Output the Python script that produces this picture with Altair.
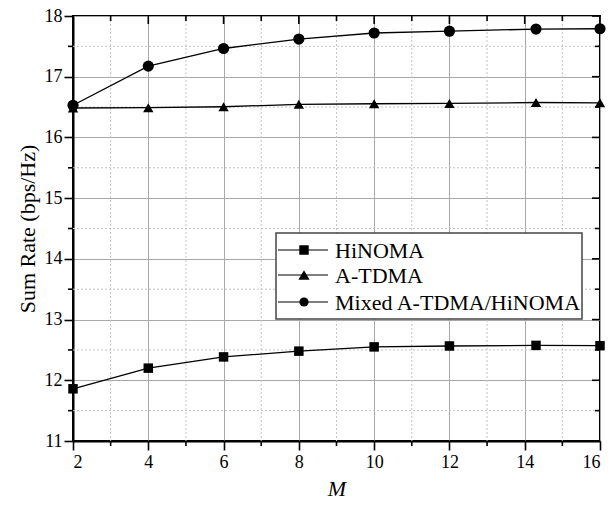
import altair as alt
import pandas as pd

# Number of users M and the sum rate (bps/Hz) of each scheme
m_values = [2, 4, 6, 8, 10, 12, 14.3, 16]
hinoma = [11.86, 12.20, 12.385, 12.48, 12.55, 12.565, 12.575, 12.57]
a_tdma = [16.485, 16.49, 16.505, 16.545, 16.555, 16.56, 16.575, 16.57]
mixed = [16.53, 17.175, 17.465, 17.62, 17.72, 17.75, 17.785, 17.79]

series_names = ["HiNOMA", "A-TDMA", "Mixed A-TDMA/HiNOMA"]
series_shapes = ["square", "triangle-up", "circle"]
series_sizes = [90, 125, 85]

x_major = [2, 4, 6, 8, 10, 12, 14, 16]
x_minor = [3, 5, 7, 9, 11, 13, 15]
y_major = [11, 12, 13, 14, 15, 16, 17, 18]
y_minor = [11.5, 12.5, 13.5, 14.5, 15.5, 16.5, 17.5]

W, H = 527, 425
FONT = "Liberation Serif"

rows = []
for name, vals in zip(series_names, [hinoma, a_tdma, mixed]):
    for m, v in zip(m_values, vals):
        rows.append({"M": m, "rate": v, "scheme": name})
df = pd.DataFrame(rows)

xs = alt.Scale(domain=[2, 16], nice=False, zero=False)
ys = alt.Scale(domain=[11, 18], nice=False, zero=False)

axis_style = dict(
    format="d",
    labelFont=FONT, labelFontSize=18, labelColor="black",
    titleFont=FONT, titleFontSize=22, titleColor="black", titleFontWeight="normal",
    grid=True, gridColor="#a8a8a8", gridWidth=1,
    domainColor="black", domainWidth=2,
    tickColor="black", tickWidth=1.6, tickSize=9,
)

xminor_df = pd.DataFrame({"M": x_minor})
yminor_df = pd.DataFrame({"rate": y_minor})
xmajor_df = pd.DataFrame({"M": x_major})
ymajor_df = pd.DataFrame({"rate": y_major})

# dotted minor grid
minor_vgrid = alt.Chart(xminor_df).mark_rule(color="#c4c4c4", strokeDash=[2, 2], strokeWidth=1).encode(
    x=alt.X("M:Q", scale=xs), y=alt.value(0), y2=alt.value(H))
minor_hgrid = alt.Chart(yminor_df).mark_rule(color="#c4c4c4", strokeDash=[2, 2], strokeWidth=1).encode(
    y=alt.Y("rate:Q", scale=ys), x=alt.value(0), x2=alt.value(W))

# minor ticks pointing outward on the bottom and left axes
minor_xticks = alt.Chart(xminor_df).mark_rule(color="black", strokeWidth=1.6).encode(
    x=alt.X("M:Q", scale=xs), y=alt.value(H), y2=alt.value(H + 5))
minor_yticks = alt.Chart(yminor_df).mark_rule(color="black", strokeWidth=1.6).encode(
    y=alt.Y("rate:Q", scale=ys), x=alt.value(-5), x2=alt.value(0))

# inward ticks on the top and right frame edges
top_major = alt.Chart(xmajor_df).mark_rule(color="black", strokeWidth=1.6).encode(
    x=alt.X("M:Q", scale=xs), y=alt.value(0), y2=alt.value(8))
top_minor = alt.Chart(xminor_df).mark_rule(color="black", strokeWidth=1.6).encode(
    x=alt.X("M:Q", scale=xs), y=alt.value(0), y2=alt.value(5))
right_major = alt.Chart(ymajor_df).mark_rule(color="black", strokeWidth=1.6).encode(
    y=alt.Y("rate:Q", scale=ys), x=alt.value(W - 8), x2=alt.value(W))
right_minor = alt.Chart(yminor_df).mark_rule(color="black", strokeWidth=1.6).encode(
    y=alt.Y("rate:Q", scale=ys), x=alt.value(W - 5), x2=alt.value(W))

lines = alt.Chart(df).mark_line(color="black", strokeWidth=1.3).encode(
    x=alt.X("M:Q", scale=xs,
            axis=alt.Axis(values=x_major, title="M", titleFontStyle="italic",
                          titlePadding=7, labelPadding=3, **axis_style)),
    y=alt.Y("rate:Q", scale=ys,
            axis=alt.Axis(values=y_major, title="Sum Rate (bps/Hz)",
                          titlePadding=5, labelPadding=2, **axis_style)),
    detail="scheme:N",
)

points = alt.Chart(df).mark_point(filled=True, color="black", opacity=1).encode(
    x=alt.X("M:Q", scale=xs),
    y=alt.Y("rate:Q", scale=ys),
    shape=alt.Shape("scheme:N", scale=alt.Scale(domain=series_names, range=series_shapes), legend=None),
    size=alt.Size("scheme:N", scale=alt.Scale(domain=series_names, range=series_sizes), legend=None),
)

# legend box with line-and-marker samples
lx0, lx1, ly0, ly1 = 203, 509, 217, 303
legend_layers = [
    alt.Chart(pd.DataFrame({"a": [0]})).mark_rect(fill="white", stroke="#444444", strokeWidth=1.5).encode(
        x=alt.value(lx0), x2=alt.value(lx1), y=alt.value(ly0), y2=alt.value(ly1))
]
row_y = [234, 259, 286]
for name, shape, yy, sz in zip(series_names, series_shapes, row_y, series_sizes):
    one = pd.DataFrame({"scheme": [name]})
    legend_layers.append(alt.Chart(one).mark_rule(color="black", strokeWidth=1.2).encode(
        x=alt.value(205), x2=alt.value(255), y=alt.value(yy)))
    legend_layers.append(alt.Chart(one).mark_point(filled=True, color="black", opacity=1, shape=shape, size=sz).encode(
        x=alt.value(231), y=alt.value(yy)))
    legend_layers.append(alt.Chart(one).mark_text(font=FONT, fontSize=22, align="left", baseline="middle",
                                                  color="black").encode(
        x=alt.value(262), y=alt.value(yy + 1), text="scheme:N"))

chart = alt.layer(
    minor_vgrid, minor_hgrid, lines, points,
    minor_xticks, minor_yticks, top_major, top_minor, right_major, right_minor,
    *legend_layers,
).properties(
    width=W, height=H,
    autosize=alt.AutoSizeParams(type="none"),
    padding={"left": 73, "top": 16, "right": 16, "bottom": 67},
).configure_view(
    stroke="black", strokeWidth=2,
)

chart.save("out.html", embed_options={"renderer": "svg", "actions": False})
